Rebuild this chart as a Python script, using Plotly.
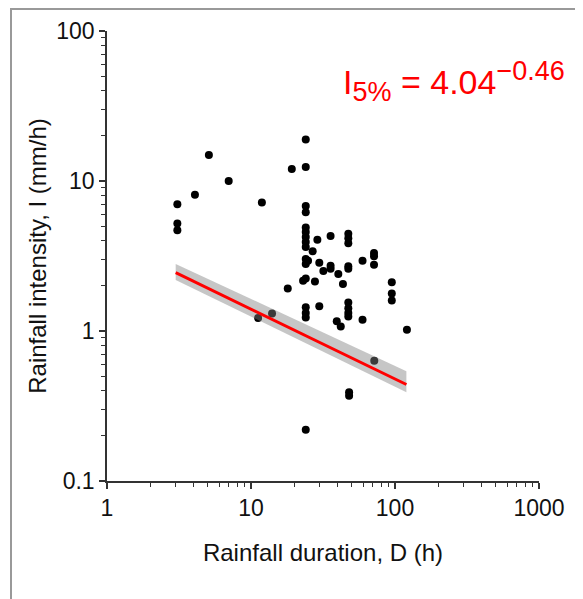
import plotly.graph_objects as go

# rainfall events: duration D (h) and mean intensity I (mm/h)
duration = [3.08, 3.08, 3.08, 4.08, 5.1, 7.0, 11.9, 11.2, 14.0, 18.0, 19.2,
            24, 24, 24, 24, 24, 24, 24, 24, 24, 24, 24, 24.9, 24, 23, 24, 24, 24, 24,
            26.8, 27.8, 28.9, 29.8, 29.8, 31.8, 35.7, 35.7, 35.7, 39.4, 40.4, 42, 43.5,
            47.4, 47.4, 47.4, 47.4, 47.4, 47.4, 47.4, 47.4, 47.4, 48, 48,
            59.5, 59.5, 71.5, 71.5, 71.5, 71.8, 95, 95, 95, 121]
intensity = [7.0, 5.2, 4.7, 8.1, 14.9, 10.0, 7.2, 1.22, 1.31, 1.92, 12.0,
             18.9, 12.4, 6.8, 6.2, 4.9, 4.57, 4.23, 3.92, 3.63, 3.02, 2.8, 2.94, 2.24, 2.16, 1.44, 1.32, 1.23, 0.22,
             3.4, 2.14, 4.06, 2.85, 1.46, 2.51, 4.3, 2.72, 2.6, 1.16, 2.4, 1.07, 2.06,
             4.45, 4.15, 3.85, 2.7, 2.6, 1.55, 1.42, 1.32, 1.25, 0.39, 0.37,
             2.94, 1.19, 3.31, 3.15, 2.77, 0.634, 2.11, 1.78, 1.6, 1.02]

# 5% threshold line and its uncertainty band
fit_d = [3, 120]
fit_i = [2.45, 0.44]
band_upper = [2.80, 0.54]
band_lower = [2.19, 0.39]

FONT = "Liberation Sans, Arial, Helvetica, sans-serif"

fig = go.Figure()
fig.add_trace(go.Scatter(x=duration, y=intensity, mode="markers",
                         marker=dict(color="black", size=8), showlegend=False))
fig.add_trace(go.Scatter(x=fit_d + fit_d[::-1], y=band_upper + band_lower[::-1],
                         fill="toself", fillcolor="rgba(128,128,128,0.45)",
                         line=dict(width=0), mode="lines", showlegend=False))
fig.add_trace(go.Scatter(x=fit_d, y=fit_i, mode="lines",
                         line=dict(color="#ff0000", width=3), showlegend=False))

axis_common = dict(type="log", showgrid=False, zeroline=False, showline=True,
                   linecolor="#333", linewidth=1.5, ticks="outside", ticklen=6,
                   tickcolor="#333", tickwidth=1.5, dtick=1, automargin=False,
                   tickfont=dict(family=FONT, size=23, color="#111"),
                   minor=dict(ticks="outside", ticklen=4, dtick="D1", tickcolor="#333",
                              tickwidth=1, showgrid=False))

fig.update_xaxes(range=[0, 3], **axis_common,
                 title=dict(text="Rainfall duration, D (h)", standoff=24,
                            font=dict(family=FONT, size=24, color="#111")))
fig.update_yaxes(range=[-1, 2], **axis_common,
                 title=dict(text="Rainfall intensity, I (mm/h)", standoff=3,
                            font=dict(family=FONT, size=24, color="#111")))

fig.add_annotation(xref="paper", yref="paper", x=0.542, y=0.887, xanchor="left",
                   yanchor="middle", showarrow=False,
                   text=("I<sub><span style='font-size:27px'>5%</span></sub> = 4.04"
                         "<sup><span style='font-size:27px'>\u22120.46</span></sup>"),
                   font=dict(family=FONT, size=34, color="#ff0000"))

# grey frame around the figure
fig.add_shape(type="rect", xref="paper", yref="paper",
              x0=-96 / 432, x1=1.2, y0=-0.3, y1=1 + 22 / 450,
              line=dict(color="#999", width=2), fillcolor="rgba(0,0,0,0)")

fig.update_layout(width=575, height=591, plot_bgcolor="white", paper_bgcolor="white",
                  margin=dict(l=99, r=44, t=23, b=118),
                  font=dict(family=FONT))
fig.write_html("out.html")
